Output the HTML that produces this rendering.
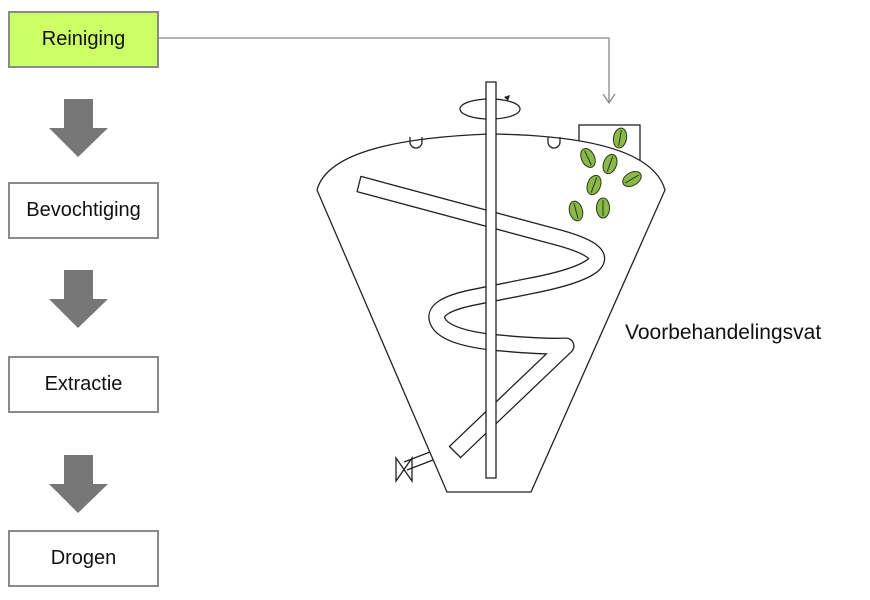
<!DOCTYPE html>
<html><head><style>
body{margin:0;width:870px;height:600px;background:#fff;position:relative;font-family:"Liberation Sans",sans-serif;overflow:hidden}
.b{position:absolute;left:8px;width:147px;height:53px;border:2px solid #8a8a8a;background:#fff;display:flex;align-items:center;justify-content:center;font-size:20px;color:#111}
</style></head><body>
<div class="b" style="top:11px;background:#ccff66">Reiniging</div>
<div class="b" style="top:182px">Bevochtiging</div>
<div class="b" style="top:356px">Extractie</div>
<div class="b" style="top:530px">Drogen</div>
<div style="position:absolute;left:625px;top:321px;font-size:21px;color:#111">Voorbehandelingsvat</div>
<svg width="870" height="600" style="position:absolute;left:0;top:0">
<g fill="#777">
<polygon points="64,99 93,99 93,128 108,128 78,157 49,128 64,128"/>
<polygon points="64,270 93,270 93,299 108,299 78,328 49,299 64,299"/>
<polygon points="64,455 93,455 93,484 108,484 78,513 49,484 64,484"/>
</g>
<g fill="none" stroke="#888" stroke-width="1.3">
<polyline points="158,38 609,38 609,103"/>
<polyline points="603,94 609,103 615,94"/>
</g>
<g fill="none" stroke="#222" stroke-width="1.3">
<rect x="579" y="125" width="61" height="60" fill="#fff"/>
<path d="M317,190 Q330,140 490,134 Q650,136 665,190 L531,492 L447,492 Z" fill="#fff"/>
<path d="M410,137 v5 a6,6 0 0 0 12,0 v-5 M548,137 v5 a6,6 0 0 0 12,0 v-5"/>
<ellipse cx="490" cy="109" rx="30" ry="10"/>
</g>
<path d="M359,184 L560,238 Q610,252 592,266 Q577,277 530,286 L470,298 Q434,306 437,319 Q441,336 490,342 Q540,347 566,346 L455,452" fill="none" stroke="#222" stroke-width="17" stroke-linejoin="round"/>
<path d="M359,184 L560,238 Q610,252 592,266 Q577,277 530,286 L470,298 Q434,306 437,319 Q441,336 490,342 Q540,347 566,346 L455,452" fill="none" stroke="#fff" stroke-width="14.4" stroke-linejoin="round"/>
<g fill="none" stroke="#222" stroke-width="1.3">
<path d="M361,176 L357,192 M449,446 L461,458"/>
<rect x="486" y="82" width="10" height="396" fill="#fff"/>
<path d="M404,462 L430,452 M407,470 L433,460 M396,458 L412,481 L412,458 L396,481 Z"/>
</g>
<polygon points="504,97 510,95 508,101" fill="#222"/>
<g fill="#8ab84a" stroke="#2a3a10" stroke-width="1">
<g transform="translate(620,138) rotate(10)"><ellipse rx="6.5" ry="10"/><line x1="0" y1="-8" x2="0" y2="8"/></g>
<g transform="translate(588,158) rotate(-25)"><ellipse rx="6.5" ry="10"/><line x1="0" y1="-8" x2="0" y2="8"/></g>
<g transform="translate(610,164) rotate(20)"><ellipse rx="6.5" ry="10"/><line x1="0" y1="-8" x2="0" y2="8"/></g>
<g transform="translate(632,179) rotate(60)"><ellipse rx="6.5" ry="10"/><line x1="0" y1="-8" x2="0" y2="8"/></g>
<g transform="translate(594,185) rotate(20)"><ellipse rx="6.5" ry="10"/><line x1="0" y1="-8" x2="0" y2="8"/></g>
<g transform="translate(576,211) rotate(-15)"><ellipse rx="6.5" ry="10"/><line x1="0" y1="-8" x2="0" y2="8"/></g>
<g transform="translate(603,208) rotate(0)"><ellipse rx="6.5" ry="10"/><line x1="0" y1="-8" x2="0" y2="8"/></g>
</g>
</svg>
</body></html>
